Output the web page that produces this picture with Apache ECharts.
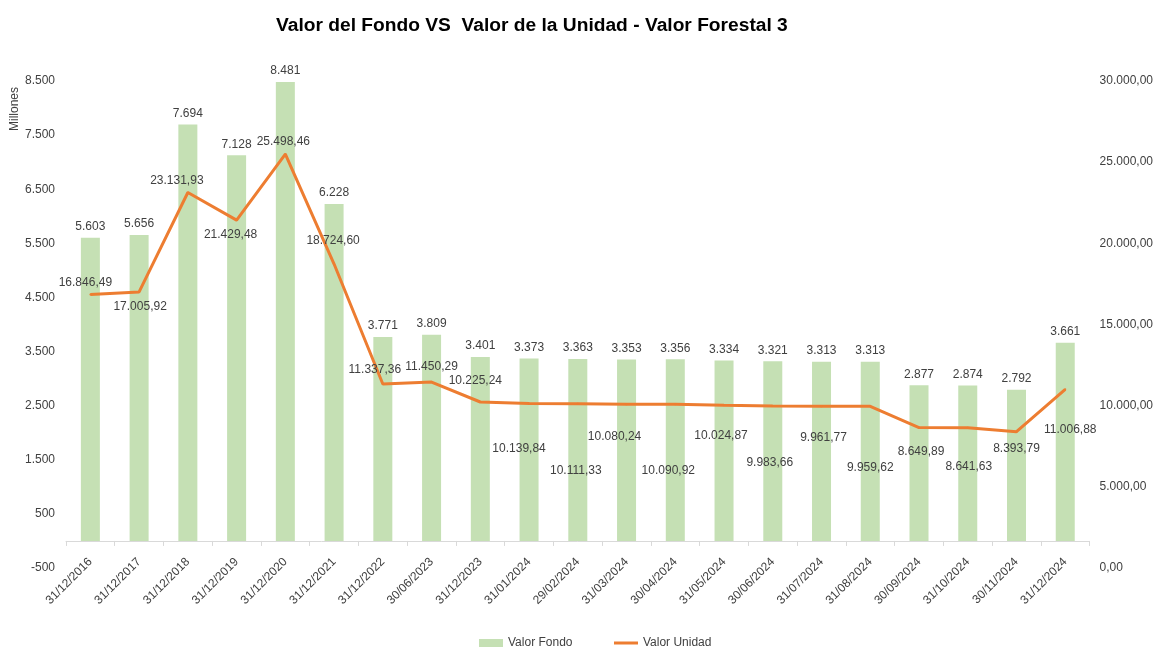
<!DOCTYPE html>
<html>
<head>
<meta charset="utf-8">
<script src="https://cdn.jsdelivr.net/npm/echarts@6/dist/echarts.min.js"></script>
<style>
  html, body { margin: 0; padding: 0; background: #fff; }
  #chart { width: 1156px; height: 647px; }
</style>
</head>
<body>
<div id="chart"></div>
<script>
// data
const fechas = ['31/12/2016', '31/12/2017', '31/12/2018', '31/12/2019', '31/12/2020', '31/12/2021',
    '31/12/2022', '30/06/2023', '31/12/2023', '31/01/2024', '29/02/2024', '31/03/2024', '30/04/2024',
    '31/05/2024', '30/06/2024', '31/07/2024', '31/08/2024', '30/09/2024', '31/10/2024', '30/11/2024',
    '31/12/2024'];
const valorFondo = [5603, 5656, 7694, 7128, 8481, 6228, 3771, 3809, 3401, 3373, 3363, 3353, 3356,
    3334, 3321, 3313, 3313, 2877, 2874, 2792, 3661];
const valorUnidad = [16846.49, 17005.92, 23131.93, 21429.48, 25498.46, 18724.60, 11337.36, 11450.29,
    10225.24, 10139.84, 10111.33, 10080.24, 10090.92, 10024.87, 9983.66, 9961.77, 9959.62, 8649.89,
    8641.63, 8393.79, 11006.88];
const ticksMillones = [-500, 500, 1500, 2500, 3500, 4500, 5500, 6500, 7500, 8500];

// where each unit label sits relative to its point (px)
const unitLabelOffsets = [[-5, -12], [1, 15], [-11, -12], [-6, 15], [-2, -12], [-1, -23], [-8, -14],
    [0, -15], [-5, -21], [-10, 45], [-2, 67], [-12, 32], [-7, 66], [-3, 30], [-3, 57], [2, 31],
    [0, 61], [2, 24], [1, 39], [0, 17], [5, 40]];

const FONT = 'Liberation Sans';

let fmt = (v, dec) => {
    let parts = v.toFixed(dec).split('.');
    parts[0] = parts[0].replace(/\B(?=(\d{3})+(?!\d))/g, '.');
    return dec ? parts[0] + ',' + parts[1] : parts[0];
};

let option = {
    animation: false,
    textStyle: { fontFamily: FONT },
    title: {
        text: 'Valor del Fondo VS  Valor de la Unidad - Valor Forestal 3',
        left: 271,
        top: 11,
        textStyle: { fontFamily: FONT, fontWeight: 'bold', fontSize: 19.2, color: '#000' }
    },
    legend: {
        left: 474,
        top: 632,
        itemWidth: 24,
        itemHeight: 8,
        itemGap: 40,
        textStyle: { fontFamily: FONT, fontSize: 12, color: '#404040' },
        data: [
            { name: 'Valor Fondo', icon: 'rect' },
            { name: 'Valor Unidad', itemStyle: { opacity: 0 }, lineStyle: { width: 3 } }
        ]
    },
    graphic: [{
        type: 'text',
        x: 15,
        y: 109,
        rotation: Math.PI / 2,
        style: {
            text: 'Millones',
            align: 'center',
            verticalAlign: 'middle',
            font: '12px "Liberation Sans"',
            fill: '#404040'
        }
    }],
    grid: { left: 66, right: 63, top: 81, bottom: 79 },
    xAxis: {
        type: 'category',
        data: fechas,
        axisLine: { onZero: true, onZeroAxisIndex: 0, lineStyle: { color: '#D9D9D9', width: 1 } },
        axisTick: { show: true, length: 5, lineStyle: { color: '#D9D9D9' } },
        axisLabel: { rotate: 45, interval: 0, fontSize: 12, color: '#404040', margin: -8 }
    },
    yAxis: [{
        type: 'value',
        min: -500,
        max: 8500,
        interval: 1000,
        axisLine: { show: false },
        axisTick: { show: false },
        splitLine: { show: false },
        axisLabel: {
            customValues: ticksMillones,
            fontSize: 12,
            color: '#404040',
            margin: 11,
            formatter: v => fmt(v, 0)
        }
    }, {
        type: 'value',
        min: 0,
        max: 30000,
        interval: 5000,
        axisLine: { show: false },
        axisTick: { show: false },
        splitLine: { show: false },
        axisLabel: {
            fontSize: 12,
            color: '#404040',
            margin: 10,
            formatter: v => fmt(v, 2)
        }
    }],
    series: [{
        name: 'Valor Fondo',
        type: 'bar',
        yAxisIndex: 0,
        data: valorFondo,
        barWidth: 19,
        itemStyle: { color: '#C5E0B4' },
        label: {
            show: true,
            position: 'top',
            distance: 5,
            fontSize: 12,
            color: '#404040',
            formatter: p => fmt(p.value, 0)
        }
    }, {
        name: 'Valor Unidad',
        type: 'line',
        yAxisIndex: 1,
        data: valorUnidad.map((v, i) => ({
            value: v,
            label: { offset: unitLabelOffsets[i] }
        })),
        symbol: 'circle',
        symbolSize: 2,
        showSymbol: true,
        lineStyle: { color: '#ED7D31', width: 3 },
        itemStyle: { color: '#ED7D31' },
        label: {
            show: true,
            position: 'inside',
            fontSize: 12,
            color: '#404040',
            formatter: p => fmt(p.value, 2)
        },
        z: 3
    }]
};

let myChart = echarts.init(document.getElementById('chart'));
myChart.setOption(option);
</script>
</body>
</html>
